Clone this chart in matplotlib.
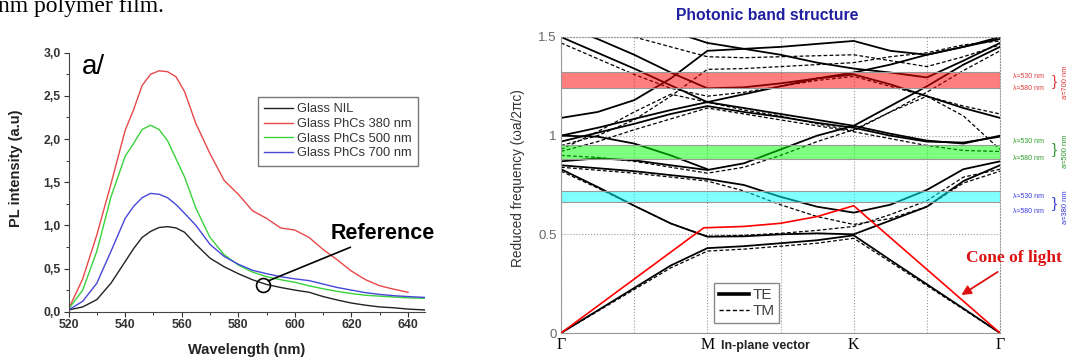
import numpy as np
import matplotlib
matplotlib.use("Agg")
import matplotlib.pyplot as plt
from matplotlib.lines import Line2D
from matplotlib.colors import to_rgba
from matplotlib.ticker import MultipleLocator, FuncFormatter

plt.rcParams['font.family'] = ['Liberation Sans', 'DejaVu Sans']

# ---------------- left panel: PL spectra ----------------
wavelength = [520, 525, 530, 535, 540, 543, 546, 549, 552, 555, 558, 561, 565, 570,
              575, 580, 585, 590, 595, 600, 605, 610, 615, 620, 625, 630, 635, 640, 646]
pl_nil = [.02, .055, .14, .33, .58, .73, .86, .93, .975, .985, .97, .92, .78, .62,
          .52, .44, .37, .315, .28, .25, .225, .175, .135, .10, .075, .055, .045, .03, .02]
pl_380 = [.03, .38, .89, 1.48, 2.10, 2.34, 2.62, 2.75, 2.79, 2.78, 2.72, 2.55, 2.18, 1.83,
          1.52, 1.36, 1.17, 1.08, .97, .945, .86, .72, .60, .47, .37, .30, .26, .225, np.nan]
pl_500 = [.03, .25, .70, 1.33, 1.80, 1.95, 2.11, 2.16, 2.11, 1.98, 1.77, 1.56, 1.20, .86,
          .66, .54, .46, .405, .37, .34, .30, .265, .235, .21, .19, .18, .17, .16, .155]
pl_700 = [.02, .12, .33, .70, 1.08, 1.22, 1.32, 1.37, 1.36, 1.32, 1.24, 1.14, 1.00, .78,
          .64, .55, .48, .44, .405, .38, .36, .32, .28, .25, .22, .20, .185, .175, .165]
pl_labels = ["Glass NIL", "Glass PhCs 380 nm", "Glass PhCs 500 nm", "Glass PhCs 700 nm"]
pl_colors = ["#222222", "#e8484a", "#3ad23a", "#4646d8"]

# ---------------- right panel: band structure ----------------
k_path = [0, .25, .5, .75, 1, 1.25, 1.5, 1.75, 2, 2.25, 2.5, 2.75, 3]
k_ticks = [0, 1, 2, 3]
k_labels = ["\u0393", "M", "K", "\u0393"]
nan = np.nan
te_bands = [
    [0, .114, .228, .342, .43, .44, .455, .47, .495, .37, .247, .124, 0],
    [.83, .74, .645, .555, .488, .49, .50, .505, .50, .57, .64, .77, .85],
    [.85, .835, .82, .80, .78, .75, .69, .64, .61, .65, .725, .83, .87],
    [.87, .885, .875, .85, .826, .86, .93, 1.0, 1.05, 1.15, 1.25, 1.36, 1.45],
    [1.0, 1.04, 1.085, 1.13, 1.17, 1.14, 1.11, 1.08, 1.05, 1.01, .975, .96, 1.0],
    [.97, 1.015, 1.06, 1.11, 1.15, 1.12, 1.095, 1.065, 1.04, 1.0, .97, .965, .995],
    [1.09, 1.12, 1.18, 1.29, 1.43, 1.44, 1.45, 1.465, 1.48, 1.43, 1.41, 1.45, 1.5],
    [1.5, 1.42, 1.34, 1.255, 1.17, 1.21, 1.25, 1.29, 1.32, 1.36, 1.41, 1.45, 1.49],
    [1.56, 1.49, 1.41, 1.32, 1.24, 1.245, 1.265, 1.29, 1.31, 1.26, 1.20, 1.14, 1.09],
    [nan, nan, nan, 1.53, 1.47, 1.44, 1.41, 1.37, 1.34, 1.32, 1.295, 1.38, 1.47],
    [1.0, .995, .96, .90, .83, nan, nan, nan, nan, nan, nan, nan, nan],
]
tm_bands = [
    [0, .11, .22, .33, .415, .425, .44, .455, .48, .36, .24, .12, 0],
    [.82, .735, .645, .555, .49, .495, .505, .52, .54, .60, .67, .79, .83],
    [.84, .825, .81, .79, .77, .72, .65, .59, .55, .58, .64, .76, .82],
    [.90, .89, .87, .84, .81, .84, .90, .97, 1.03, 1.12, 1.22, 1.33, 1.43],
    [.92, .97, 1.03, 1.085, 1.14, 1.11, 1.08, 1.05, 1.02, .985, .95, .925, .92],
    [.93, 1.02, 1.12, 1.21, 1.17, 1.13, 1.10, 1.06, 1.025, 1.12, 1.2, 1.1, .93],
    [1.47, 1.39, 1.31, 1.24, 1.2, 1.22, 1.25, 1.28, 1.30, 1.25, 1.20, 1.15, 1.11],
    [.95, 1.0, 1.08, 1.2, 1.336, 1.34, 1.35, 1.36, 1.37, 1.40, 1.42, 1.46, 1.48],
    [nan, nan, 1.5, 1.45, 1.40, 1.395, 1.40, 1.405, 1.41, 1.38, 1.35, 1.40, 1.46],
]
cone_k = [0, .975, 1.25, 1.5, 1.75, 2, 3]
cone_freq = [0, .533, .54, .556, .59, .645, 0]

window_low = [1.242, 0.882, 0.663]
window_high = [1.322, 0.954, 0.719]
window_colors = ["red", "lime", "cyan"]
window_text = ["#e03a3a", "#2a9a2a", "#3a3ae0"]
lattice_labels = ["a\u2248700 nm", "a\u2248500 nm", "a\u2248380 nm"]

fig = plt.figure(figsize=(10.66, 3.62), dpi=100)

# ---- left panel ----
ax1 = fig.add_axes([0.0643, 0.139, 0.3344, 0.7155])
series = [pl_nil, pl_380, pl_500, pl_700]
for vals, col, lab in zip(series, pl_colors, pl_labels):
    ax1.plot(wavelength, vals, color=col, lw=1.0, label=lab)

ax1.set_xlim(520, 646)
ax1.set_ylim(0, 3.0)
for s in ["top", "right"]:
    ax1.spines[s].set_visible(False)
for s in ["left", "bottom"]:
    ax1.spines[s].set_color("#444")
ax1.xaxis.set_major_locator(MultipleLocator(20))
ax1.xaxis.set_minor_locator(MultipleLocator(10))
ax1.yaxis.set_major_locator(MultipleLocator(0.5))
ax1.yaxis.set_minor_locator(MultipleLocator(0.25))
ax1.yaxis.set_major_formatter(FuncFormatter(lambda v, p: f"{v:.1f}".replace(".", ",")))
ax1.tick_params(which="major", direction="out", length=3.5, width=0.8, colors="#333",
                labelsize=8.8, pad=2)
ax1.tick_params(which="minor", direction="out", length=2, width=0.7, colors="#333")
plt.setp(ax1.get_xticklabels() + ax1.get_yticklabels(), fontweight="bold")

ax1.text(0.5, -0.148, "Wavelength (nm)", transform=ax1.transAxes, ha="center",
         va="center", fontsize=10.5, fontweight="bold", color="#222")
ax1.text(-0.147, 0.555, "PL intensity (a.u)", transform=ax1.transAxes, ha="center",
         va="center", rotation=90, fontsize=10.5, fontweight="bold", color="#222")
ax1.text(0.036, 0.995, "a/", transform=ax1.transAxes, ha="left", va="top", fontsize=20)

leg = ax1.legend(loc="upper left", bbox_to_anchor=(0.531, 0.829), fontsize=9.3,
                 frameon=True, fancybox=False, edgecolor="#777", framealpha=1,
                 handlelength=2.2, labelspacing=0.2, borderpad=0.5, borderaxespad=0,
                 handletextpad=0.3)
leg.get_frame().set_linewidth(1.0)
for t in leg.get_texts():
    t.set_color("#333")

ax1.plot([588.7], [0.31], "o", mfc="none", mec="k", ms=10, mew=1.2)
ax1.annotate("Reference", xy=(590.6, 0.357), xytext=(612.7, 0.90),
             fontsize=15.5, fontweight="bold", va="center", ha="left",
             arrowprops=dict(arrowstyle="-", color="k", lw=1.2, shrinkA=0, shrinkB=0),
             annotation_clip=False)

fig.text(-0.002, 1 - 12 / 362, "nm polymer film.", family="Liberation Serif", fontsize=17,
         va="baseline", ha="left")

# ---- right panel ----
ax2 = fig.add_axes([0.5263, 0.0801, 0.4118, 0.8177])
for band in te_bands:
    ax2.plot(k_path, band, color="k", lw=1.3, zorder=2)
for band in tm_bands:
    ax2.plot(k_path, band, color="k", lw=0.9, ls=(0, (3, 1.8)), zorder=2)
ax2.plot(cone_k, cone_freq, color="red", lw=1.2, zorder=3)

for lo, hi, col in zip(window_low, window_high, window_colors):
    ax2.axhspan(lo, hi, facecolor=to_rgba(col, 0.5), edgecolor="#999", lw=0.8, zorder=4)

ax2.set_xlim(0, 3)
ax2.set_ylim(0, 1.5)
ax2.set_xticks(k_ticks)
ax2.set_xticklabels(k_labels, family="Liberation Serif", fontsize=11.5)
ax2.set_xticks([0.5, 1.5, 2.5], minor=True)
ax2.set_yticks([0, 0.5, 1, 1.5])
ax2.set_yticklabels(["0", "0.5", "1", "1.5"], fontsize=9.5, color="#666")
ax2.tick_params(which="both", length=0, pad=3)
ax2.grid(which="both", axis="x", ls=":", color="#999", lw=0.8)
ax2.grid(which="major", axis="y", ls=":", color="#999", lw=0.8)
ax2.set_axisbelow(True)
for s in ["left", "bottom"]:
    ax2.spines[s].set_color("#999")
for s in ["top", "right"]:
    ax2.spines[s].set_color("#999")
    ax2.spines[s].set_linestyle(":")

handles = [Line2D([], [], color="k", lw=2.6), Line2D([], [], color="k", lw=1.0, ls=(0, (3, 1.8)))]
leg2 = ax2.legend(handles, ["TE", "TM"], loc="lower left", bbox_to_anchor=(0.349, 0.034),
                  fontsize=11, frameon=True, fancybox=False, edgecolor="#888", framealpha=1,
                  handlelength=2.0, handletextpad=0.2, labelspacing=0.15, borderpad=0.3,
                  borderaxespad=0)
for t in leg2.get_texts():
    t.set_color("#444")

fig.text(767 / 1066, 1 - 15 / 362, "Photonic band structure", ha="center", va="center",
         color="#1f1fa0", fontweight="bold", fontsize=11.3)
fig.text(765 / 1066, 1 - 346 / 362, "In-plane vector", ha="center", va="center",
         color="#222", fontweight="bold", fontsize=9)
fig.text(518 / 1066, 1 - 178 / 362, "Reduced frequency (\u03c9a/2\u03c0c)", ha="center",
         va="center", rotation=90, color="#333", fontsize=9.8)

ax2.text(2.77, 0.38, "Cone of light", family="Liberation Serif", fontweight="bold",
         fontsize=12.5, color="#dd1111", ha="left", va="center", clip_on=False)
ax2.annotate("", xy=(2.72, 0.185), xytext=(3.0, 0.317),
             arrowprops=dict(arrowstyle="-|>", color="#dd1111", lw=1.3, mutation_scale=14),
             annotation_clip=False)

label_top = [1.30, 0.968, 0.694]
label_bot = [1.24, 0.882, 0.618]
lattice_y = [1.27, 0.92, 0.64]
for i in range(3):
    c = window_text[i]
    ax2.text(3.09, label_top[i], "\u03bb\u2248530 nm", fontsize=5, color=c, va="center",
             ha="left", clip_on=False)
    ax2.text(3.09, label_bot[i], "\u03bb\u2248580 nm", fontsize=5, color=c, va="center",
             ha="left", clip_on=False)
    ax2.text(3.35, (label_top[i] + label_bot[i]) / 2, "}", fontsize=11, color=c,
             va="center", ha="left", clip_on=False, fontweight="light")
    ax2.text(3.445, lattice_y[i], lattice_labels[i], fontsize=5.5, color=c, va="center",
             ha="center", rotation=90, clip_on=False)

fig.savefig("out.png", dpi=100)
plt.close(fig)
